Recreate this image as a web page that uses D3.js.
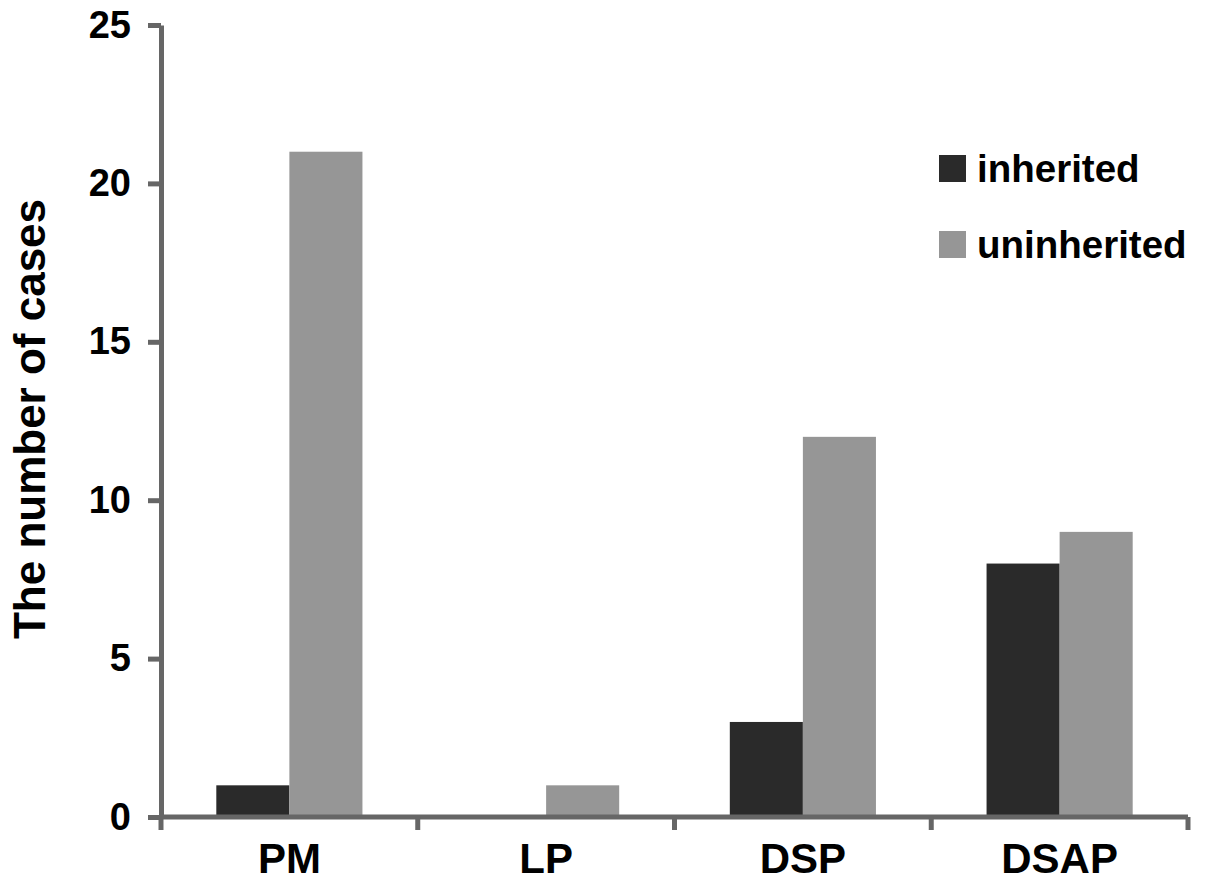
<!DOCTYPE html>
<html>
<head>
<meta charset="utf-8">
<script src="https://cdn.jsdelivr.net/npm/d3@7"></script>
<style>
  html, body { margin: 0; padding: 0; background: #fff; }
  svg { display: block; }
  text { font-family: "Liberation Sans", Arial, sans-serif; font-weight: bold; fill: #000; }
</style>
</head>
<body>
<svg id="chart" width="1205" height="888"></svg>
<script>
const categories = ["PM", "LP", "DSP", "DSAP"];
const seriesNames = ["inherited", "uninherited"];
const inherited = [1, 0, 3, 8];
const uninherited = [21, 1, 12, 9];
const yTicks = [0, 5, 10, 15, 20, 25];
const colors = ["#2a2a2a", "#969696"];

const svg = d3.select("#chart");
const plotLeft = 161, plotRight = 1188, plotTop = 25, plotBottom = 817;

const x = d3.scaleBand().domain(categories).range([plotLeft, plotRight]).paddingInner(0).paddingOuter(0);
const x1 = d3.scaleBand().domain(seriesNames).range([0, x.bandwidth()]).paddingInner(0).paddingOuter(0.757);
const y = d3.scaleLinear().domain([0, 25]).range([plotBottom, plotTop]);

const data = categories.map((c, i) => ({cat: c, values: [inherited[i], uninherited[i]]}));

// bars
const groups = svg.append("g").selectAll("g").data(data).join("g")
  .attr("transform", d => `translate(${x(d.cat)},0)`);
groups.selectAll("rect").data(d => d.values.map((v, j) => ({s: seriesNames[j], v, j})))
  .join("rect")
  .attr("x", d => x1(d.s))
  .attr("width", x1.bandwidth())
  .attr("y", d => y(d.v))
  .attr("height", d => y(0) - y(d.v))
  .attr("fill", d => colors[d.j]);

// y axis
const yAxis = d3.axisLeft(y).tickValues(yTicks).tickSize(13).tickSizeOuter(0).tickPadding(17).tickFormat(d3.format("d"));
const gy = svg.append("g").attr("transform", `translate(${plotLeft},0)`).call(yAxis);
gy.select(".domain").attr("stroke", "#666").attr("stroke-width", 5);
gy.selectAll(".tick line").attr("stroke", "#666").attr("stroke-width", 5);
gy.selectAll(".tick text").attr("font-size", 38).attr("font-family", "Liberation Sans, Arial, sans-serif").attr("font-weight", "bold").attr("fill", "#000");

// x axis
const gx = svg.append("g");
gx.append("line").attr("x1", plotLeft).attr("x2", plotRight).attr("y1", y(0)).attr("y2", y(0))
  .attr("stroke", "#666").attr("stroke-width", 5);
const bounds = categories.map(c => x(c)).concat([x.range()[1]]);
gx.selectAll("line.tk").data(bounds).join("line").attr("class", "tk")
  .attr("x1", d => d).attr("x2", d => d).attr("y1", y(0)).attr("y2", y(0) + 13)
  .attr("stroke", "#666").attr("stroke-width", 5);
gx.selectAll("text").data(categories).join("text")
  .attr("x", d => x(d) + x.bandwidth() / 2)
  .attr("y", 873)
  .attr("text-anchor", "middle")
  .attr("font-size", 42)
  .text(d => d);

// y label
svg.append("text")
  .attr("transform", `translate(45,${(plotTop + plotBottom) / 2 - 2}) rotate(-90)`)
  .attr("text-anchor", "middle")
  .attr("font-size", 44)
  .text("The number of cases");

// legend
const legend = svg.append("g").attr("transform", "translate(939,155)");
const li = legend.selectAll("g").data(seriesNames).join("g")
  .attr("transform", (d, i) => `translate(0,${i * 76})`);
li.append("rect").attr("width", 27).attr("height", 27).attr("fill", (d, i) => colors[i]);
li.append("text").attr("x", 38).attr("y", 27).attr("font-size", 38.5).text(d => d);
</script>
</body>
</html>
